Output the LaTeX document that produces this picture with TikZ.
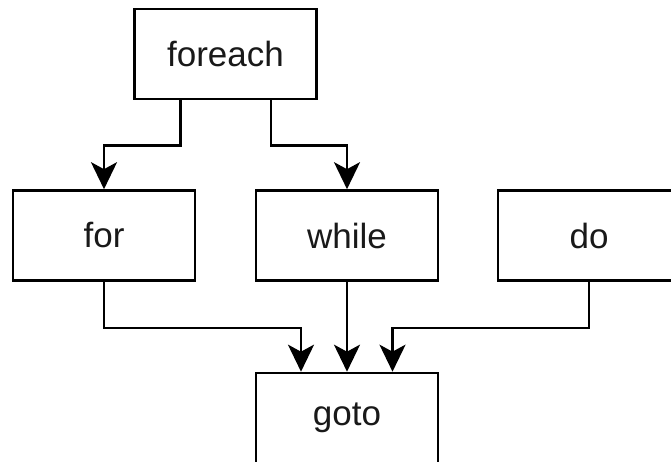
\documentclass[tikz,border=0pt]{standalone}
\usepackage{fontspec}
\setmainfont{Liberation Sans}
\usetikzlibrary{arrows.meta}
\tikzset{
  box/.style={draw=black, line width=2.6pt, minimum width=182pt, minimum height=90pt,
    inner sep=0pt, font=\fontsize{35}{42}\selectfont, text=black!90},
  arr/.style={draw=black, line width=2.6pt,
    -{Stealth[length=27pt, width=26pt, inset=7pt]}},
}
\begin{document}
\begin{tikzpicture}[x=1pt, y=-1pt]
  \useasboundingbox (0,0) rectangle (671,462);
  \clip (0,0) rectangle (671,462);
  \fill[white] (0,0) rectangle (671,462);

  % loop keywords
  \node[box] (foreach) at (225.5,54) {foreach};
  \node[box] (for)     at (104,235.5) {for};
  \node[box] (while)   at (347,235.5) {while};
  \node[box] (do)      at (589,235.5) {do};
  \node[box] (goto)    at (347,418) {goto};

  % foreach splits into for and while
  \draw[arr] ([xshift=-45pt]foreach.south) -- ++(0,45) -| (for.north);
  \draw[arr] ([xshift=45.5pt]foreach.south) -- ++(0,45) -| (while.north);

  % everything lowers to goto
  \draw[arr] (for.south) -- ++(0,46) -| ([xshift=-46pt]goto.north);
  \draw[arr] (while.south) -- (goto.north);
  \draw[arr] (do.south) -- ++(0,46) -| ([xshift=45.5pt]goto.north);
\end{tikzpicture}
\end{document}
